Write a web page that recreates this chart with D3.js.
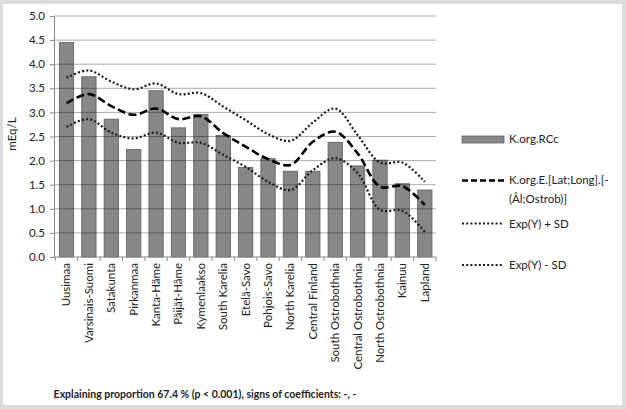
<!DOCTYPE html>
<html>
<head>
<meta charset="utf-8">
<script src="https://cdn.jsdelivr.net/npm/d3@7"></script>
<style>
  body { margin: 0; background: #dcdcdc; }
  svg { display: block; }
  text { font-family: Lato, "Open Sans", sans-serif; fill: #222; }
</style>
</head>
<body>
<script>
const regions = ['Uusimaa', 'Varsinais-Suomi', 'Satakunta', 'Pirkanmaa', 'Kanta-Häme', 'Päijät-Häme',
    'Kymenlaakso', 'South Karelia', 'Etelä-Savo', 'Pohjois-Savo', 'North Karelia', 'Central Finland',
    'South Ostrobothnia', 'Central Ostrobothnia', 'North Ostrobothnia', 'Kainuu', 'Lapland'];

// measured K.org.RCc
const observed = [4.45, 3.74, 2.86, 2.23, 3.45, 2.68, 2.96, 2.52, 1.86, 2.04, 1.78, 1.78, 2.38, 1.89, 2.01, 1.52, 1.39];
// model K.org.E.[Lat;Long].[-(Ål;Ostrob)]
const fitted = [3.19, 3.38, 3.13, 2.95, 3.08, 2.86, 2.92, 2.57, 2.29, 2.03, 1.91, 2.39, 2.60, 2.15, 1.46, 1.47, 1.08];
const upperSD = [3.72, 3.87, 3.64, 3.48, 3.60, 3.38, 3.40, 3.12, 2.84, 2.55, 2.41, 2.79, 3.08, 2.53, 1.96, 1.96, 1.56];
const lowerSD = [2.70, 2.86, 2.58, 2.46, 2.58, 2.37, 2.37, 2.12, 1.87, 1.56, 1.39, 1.80, 2.05, 1.74, 0.98, 0.96, 0.52];

const yTicks = [0, 0.5, 1, 1.5, 2, 2.5, 3, 3.5, 4, 4.5, 5];

const width = 626;
const height = 409;

const svg = d3.select('body')
    .append('svg')
    .attr('width', width)
    .attr('height', height);

// white panel inside the grey frame
svg.append('rect')
    .attr('x', 3).attr('y', 4)
    .attr('width', 619).attr('height', 401)
    .attr('fill', '#fff');

const x = d3.scaleBand()
    .domain(regions)
    .range([55.3, 436])
    .paddingInner(0.36)
    .paddingOuter(0.18);

const y = d3.scaleLinear()
    .domain([0, 5])
    .range([257, 16]);

// bars
svg.append('g')
    .selectAll('rect')
    .data(observed)
    .join('rect')
    .attr('x', (d, i) => x(regions[i]))
    .attr('y', (d) => y(d))
    .attr('width', x.bandwidth())
    .attr('height', (d) => y(0) - y(d))
    .attr('fill', '#878787')
    .attr('stroke', '#5e5e5e')
    .attr('stroke-width', 0.8);

// gridlines (drawn over bars so they show through darker)
svg.append('g')
    .selectAll('line')
    .data(yTicks.slice(1))
    .join('line')
    .attr('x1', 54).attr('x2', 436)
    .attr('y1', (d) => y(d)).attr('y2', (d) => y(d))
    .attr('stroke', 'rgba(0,0,0,0.33)')
    .attr('stroke-width', 1);

// y axis
const yAxis = svg.append('g')
    .attr('transform', 'translate(54,0)')
    .call(d3.axisLeft(y).tickValues(yTicks).tickFormat(d3.format('.1f')).tickSize(4).tickPadding(5));
yAxis.select('.domain').attr('stroke', '#888');
yAxis.selectAll('.tick line').attr('stroke', '#888');
yAxis.selectAll('text').style('font-size', '11.5px').attr('fill', '#222');

// x axis: ticks at category boundaries
const step = x.step();
const xStart = x.range()[0];
const xAxis = svg.append('g');
xAxis.append('line')
    .attr('x1', 54).attr('x2', 436)
    .attr('y1', y(0)).attr('y2', y(0))
    .attr('stroke', '#888');
xAxis.selectAll('line.tk')
    .data(d3.range(regions.length + 1))
    .join('line')
    .attr('class', 'tk')
    .attr('x1', (d) => xStart + d * step).attr('x2', (d) => xStart + d * step)
    .attr('y1', y(0)).attr('y2', y(0) + 4)
    .attr('stroke', '#888');
xAxis.selectAll('text')
    .data(regions)
    .join('text')
    .attr('transform', (d) => `translate(${x(d) + x.bandwidth() / 2 + 4},263) rotate(-90)`)
    .attr('text-anchor', 'end')
    .style('font-size', '11.5px')
    .text((d) => d);

// y title
svg.append('text')
    .attr('transform', 'translate(16,134) rotate(-90)')
    .attr('text-anchor', 'middle')
    .style('font-size', '11.5px')
    .text('mEq/L');

// lines
const cx = (i) => x(regions[i]) + x.bandwidth() / 2;
const line = d3.line()
    .x((d, i) => cx(i))
    .y((d) => y(d))
    .curve(d3.curveCatmullRom.alpha(0.5));

[upperSD, lowerSD].forEach((s) => {
    svg.append('path')
        .attr('d', line(s))
        .attr('fill', 'none')
        .attr('stroke', '#1a1a1a')
        .attr('stroke-width', 2.2)
        .attr('stroke-dasharray', '2,2.2');
});
svg.append('path')
    .attr('d', line(fitted))
    .attr('fill', 'none')
    .attr('stroke', '#000')
    .attr('stroke-width', 2.6)
    .attr('stroke-dasharray', '8,3.5');

// legend
const lg = svg.append('g').attr('transform', 'translate(462,0)');
lg.append('rect')
    .attr('x', 0).attr('y', 136)
    .attr('width', 42).attr('height', 7)
    .attr('fill', '#878787').attr('stroke', '#5e5e5e').attr('stroke-width', 0.8);
lg.append('text').attr('x', 47).attr('y', 143).style('font-size', '11.5px').text('K.org.RCc');

lg.append('line')
    .attr('x1', 0).attr('x2', 42).attr('y1', 180.5).attr('y2', 180.5)
    .attr('stroke', '#000').attr('stroke-width', 2.6).attr('stroke-dasharray', '6,3');
lg.append('text').attr('x', 47).attr('y', 184).style('font-size', '11.5px').text('K.org.E.[Lat;Long].[-');
lg.append('text').attr('x', 47).attr('y', 203).style('font-size', '11.5px').text('(Ål;Ostrob)]');

[['Exp(Y) + SD', 223.5], ['Exp(Y) - SD', 265]].forEach(([label, ly]) => {
    lg.append('line')
        .attr('x1', 0).attr('x2', 42).attr('y1', ly).attr('y2', ly)
        .attr('stroke', '#1a1a1a').attr('stroke-width', 2).attr('stroke-dasharray', '2,2.2');
    lg.append('text').attr('x', 47).attr('y', ly + 4).style('font-size', '11.5px').text(label);
});

// caption
svg.append('text')
    .attr('x', 205).attr('y', 398)
    .attr('text-anchor', 'middle')
    .style('font-size', '10.5px')
    .style('font-weight', 'bold')
    .text('Explaining proportion 67.4 % (p < 0.001), signs of coefficients: -, -');
</script>
</body>
</html>
